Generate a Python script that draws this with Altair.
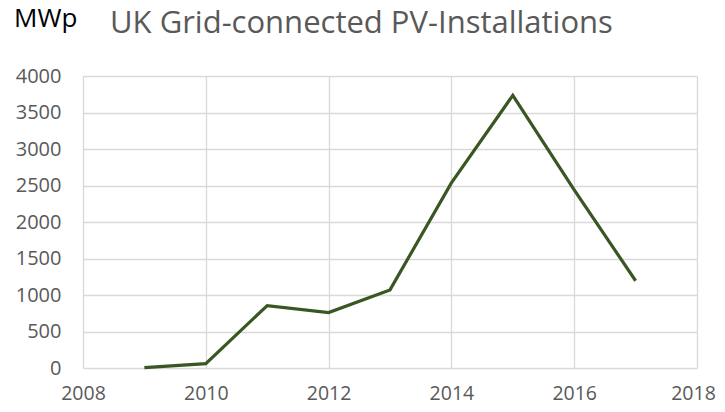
import altair as alt
import pandas as pd

years = [2009, 2010, 2011, 2012, 2013, 2014, 2015, 2016, 2017]
mwp = [5, 60, 855, 760, 1070, 2535, 3735, 2440, 1195]
x_ticks = [2008, 2010, 2012, 2014, 2016, 2018]
y_ticks = [0, 500, 1000, 1500, 2000, 2500, 3000, 3500, 4000]

df = pd.DataFrame({"year": years, "mwp": mwp})

FONT = "Open Sans"
GRAY = "#595959"

line = alt.Chart(df).mark_line(color="#385723", strokeWidth=3.2).encode(
    x=alt.X("year:Q",
            scale=alt.Scale(domain=[2008, 2018], nice=False, zero=False),
            axis=alt.Axis(values=x_ticks, format="d", title=None,
                          grid=True, gridColor="#d9d9d9", gridWidth=1.3,
                          domain=False, ticks=False, labelPadding=31,
                          labelBaseline="alphabetic",
                          labelOffset=alt.expr("datum.value == 2018 ? -4 : 0"),
                          labelFlush=False, labelOverlap=False,
                          labelFontSize=19.5, labelColor=GRAY, labelFont=FONT)),
    y=alt.Y("mwp:Q",
            scale=alt.Scale(domain=[0, 4000], nice=False),
            axis=alt.Axis(values=y_ticks, format="d", title=None,
                          grid=True, gridColor="#d9d9d9", gridWidth=1.3,
                          domain=False, ticks=False, labelPadding=22,
                          labelFlush=False, labelOverlap=False,
                          labelFontSize=20, labelColor=GRAY, labelFont=FONT)),
)

unit = alt.Chart(pd.DataFrame({"t": ["MWp"]})).mark_text(
    font=FONT, fontSize=26, color="#000000", align="left", baseline="alphabetic"
).encode(text="t:N", x=alt.value(-69), y=alt.value(-49))

title = alt.Chart(pd.DataFrame({"t": ["UK Grid-connected PV-Installations"]})).mark_text(
    font=FONT, fontSize=31, color=GRAY, align="left", baseline="alphabetic"
).encode(text="t:N", x=alt.value(27), y=alt.value(-43))

chart = alt.layer(line, unit, title).properties(
    width=614, height=292,
    autosize=alt.AutoSizeParams(type="none"),
    padding={"left": 75, "top": 68, "right": 20, "bottom": 36},
).configure_view(stroke=None)

chart.save("out.html", embed_options={"renderer": "svg", "actions": False})
